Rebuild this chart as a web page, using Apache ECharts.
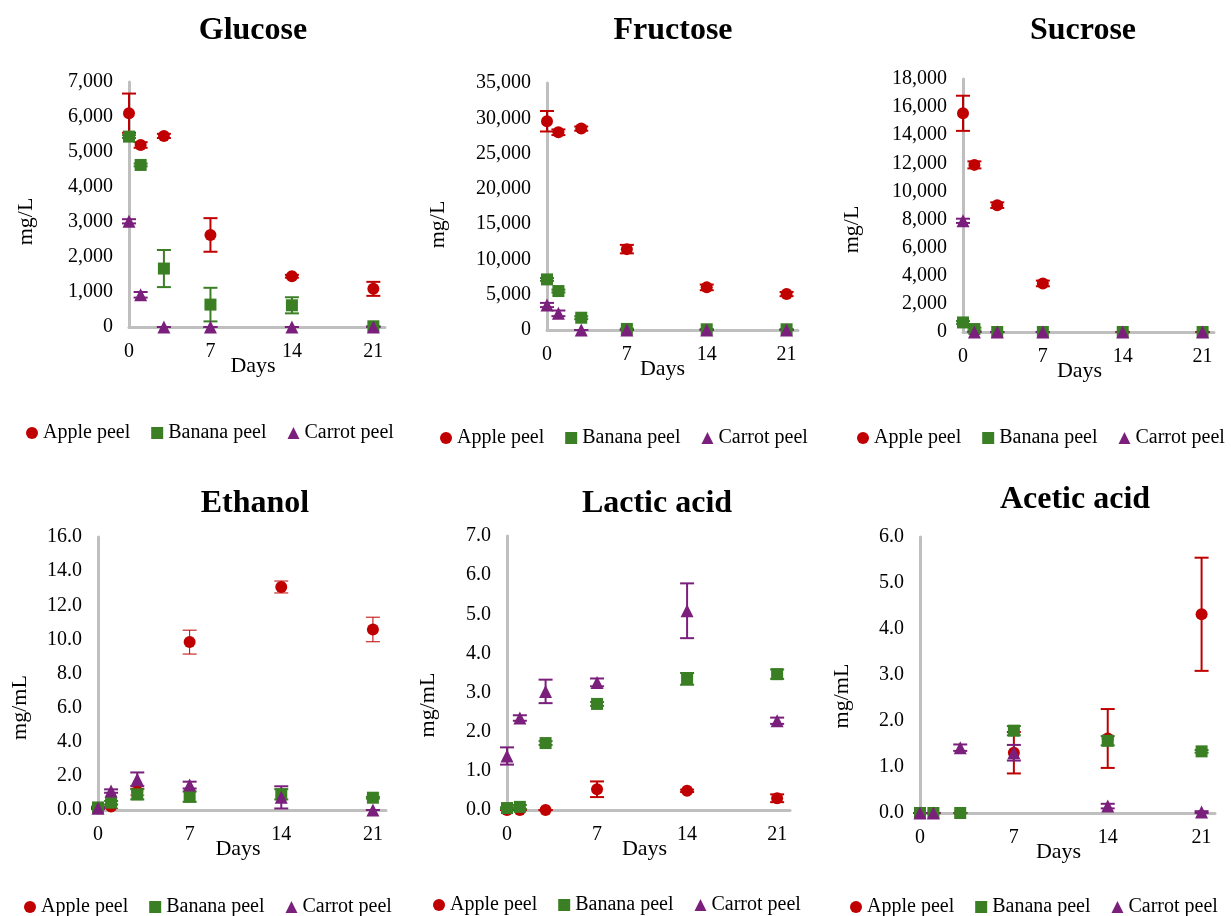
<!DOCTYPE html>
<html>
<head>
<meta charset="utf-8">
<title>Sugars and acids in fruit peel media</title>
<script src="https://cdn.jsdelivr.net/npm/echarts@6/dist/echarts.min.js"></script>
<style>
  html, body { margin: 0; background: #fff; }
  #main { width: 1231px; height: 916px; }
</style>
</head>
<body>
<div id="main"></div>
<script>
const days = [0, 1, 3, 7, 14, 21];
const xTicks = [0, 7, 14, 21];
const peelNames = ['Apple peel', 'Banana peel', 'Carrot peel'];

// Glucose, mg/L
const glucoseApple = [6110, 5200, 5460, 2630, 1450, 1090];
const glucoseAppleSd = [560, 80, 60, 480, 40, 200];
const glucoseBanana = [5440, 4630, 1670, 640, 620, 20];
const glucoseBananaSd = [40, 40, 530, 480, 230, 0];
const glucoseCarrot = [3020, 920, 0, 0, 0, 0];
const glucoseCarrotSd = [60, 80, 0, 0, 0, 0];

// Fructose, mg/L
const fructoseApple = [29580, 28020, 28540, 11460, 6040, 5090];
const fructoseAppleSd = [1450, 400, 300, 600, 400, 300];
const fructoseBanana = [7170, 5520, 1740, 150, 100, 100];
const fructoseBananaSd = [200, 200, 200, 50, 50, 50];
const fructoseCarrot = [3540, 2360, 0, 0, 0, 0];
const fructoseCarrotSd = [300, 400, 0, 0, 0, 0];

// Sucrose, mg/L
const sucroseApple = [15560, 11890, 9025, 3455, 0, 0];
const sucroseAppleSd = [1250, 250, 200, 200, 0, 0];
const sucroseBanana = [680, 210, 0, 0, 0, 0];
const sucroseBananaSd = [100, 100, 0, 0, 0, 0];
const sucroseCarrot = [7910, 0, 0, 0, 0, 0];
const sucroseCarrotSd = [150, 0, 0, 0, 0, 0];

// Ethanol, mg/mL
const ethanolApple = [0.1, 0.2, 1.07, 9.84, 13.07, 10.58];
const ethanolAppleSd = [0.05, 0.1, 0.2, 0.7, 0.35, 0.72];
const ethanolBanana = [0.15, 0.43, 0.92, 0.78, 0.92, 0.72];
const ethanolBananaSd = [0.05, 0.1, 0.3, 0.3, 0.3, 0.05];
const ethanolCarrot = [0.1, 1.11, 1.8, 1.46, 0.74, 0];
const ethanolCarrotSd = [0.05, 0.1, 0.4, 0.2, 0.65, 0];

// Lactic acid, mg/mL
const lacticApple = [0, 0, 0, 0.53, 0.49, 0.3];
const lacticAppleSd = [0, 0, 0, 0.2, 0.03, 0.1];
const lacticBanana = [0.05, 0.08, 1.71, 2.71, 3.35, 3.47];
const lacticBananaSd = [0.02, 0.05, 0.05, 0.05, 0.15, 0.12];
const lacticCarrot = [1.38, 2.35, 3.03, 3.26, 5.09, 2.28];
const lacticCarrotSd = [0.22, 0.07, 0.3, 0.1, 0.7, 0.08];

// Acetic acid, mg/mL
const aceticApple = [0, 0, 0, 1.31, 1.62, 4.32];
const aceticAppleSd = [0, 0, 0, 0.45, 0.64, 1.23];
const aceticBanana = [0, 0, 0, 1.79, 1.57, 1.34];
const aceticBananaSd = [0, 0, 0, 0.1, 0.1, 0.03];
const aceticCarrot = [0, 0, 1.42, 1.31, 0.15, 0.02];
const aceticCarrotSd = [0, 0, 0.07, 0.17, 0.05, 0.02];

const colors = ['#C00000', '#3B7F25', '#7A1F7C'];
const symbols = ['circle', 'rect', 'triangle'];
const font = '"Liberation Serif", "Times New Roman", serif';

const panels = [
  { title: 'Glucose', unit: 'mg/L', max: 7000, step: 1000, decimals: 0,
    means: [glucoseApple, glucoseBanana, glucoseCarrot],
    sds: [glucoseAppleSd, glucoseBananaSd, glucoseCarrotSd],
    grid: { left: 129, top: 82, width: 256, height: 245 },
    titleAt: [248, 26], legendAt: [26, 423], yNameGap: 92, yNameShift: 17, xNameShift: 4, errWidth: [2, 2, 2] },
  { title: 'Fructose', unit: 'mg/L', max: 35000, step: 5000, decimals: 0,
    means: [fructoseApple, fructoseBanana, fructoseCarrot],
    sds: [fructoseAppleSd, fructoseBananaSd, fructoseCarrotSd],
    grid: { left: 547, top: 83, width: 251, height: 247 },
    titleAt: [668, 26], legendAt: [440, 428], yNameGap: 98, yNameShift: 18, xNameShift: 10, errWidth: [2, 2, 2] },
  { title: 'Sucrose', unit: 'mg/L', max: 18000, step: 2000, decimals: 0,
    means: [sucroseApple, sucroseBanana, sucroseCarrot],
    sds: [sucroseAppleSd, sucroseBananaSd, sucroseCarrotSd],
    grid: { left: 963, top: 79, width: 251, height: 253 },
    titleAt: [1078, 26], legendAt: [857, 428], yNameGap: 100, yNameShift: 24, xNameShift: 9, errWidth: [2, 2, 2] },
  { title: 'Ethanol', unit: 'mg/mL', max: 16, step: 2, decimals: 1,
    means: [ethanolApple, ethanolBanana, ethanolCarrot],
    sds: [ethanolAppleSd, ethanolBananaSd, ethanolCarrotSd],
    grid: { left: 98, top: 537, width: 288, height: 273 },
    titleAt: [250, 499], legendAt: [24, 897], yNameGap: 67, yNameShift: 34, xNameShift: 4, errWidth: [1, 2, 2] },
  { title: 'Lactic acid', unit: 'mg/mL', max: 7, step: 1, decimals: 1,
    means: [lacticApple, lacticBanana, lacticCarrot],
    sds: [lacticAppleSd, lacticBananaSd, lacticCarrotSd],
    grid: { left: 507, top: 536, width: 283, height: 274 },
    titleAt: [652, 499], legendAt: [433, 895], yNameGap: 68, yNameShift: 32, xNameShift: 4, errWidth: [2, 2, 2] },
  { title: 'Acetic acid', unit: 'mg/mL', max: 6, step: 1, decimals: 1,
    means: [aceticApple, aceticBanana, aceticCarrot],
    sds: [aceticAppleSd, aceticBananaSd, aceticCarrotSd],
    grid: { left: 920, top: 537, width: 295, height: 276 },
    titleAt: [1070, 495], legendAt: [850, 897], yNameGap: 67, yNameShift: 21, xNameShift: 9, errWidth: [2, 2, 2] }
];

// vertical error bar with caps, drawn in data coordinates
function errorBar(color, width) {
  return function (params, api) {
    const x = api.value(0), y = api.value(1), sd = api.value(2);
    const top = api.coord([x, y + sd]);
    const bottom = api.coord([x, y - sd]);
    const cap = 7;
    const style = { stroke: color, lineWidth: width, fill: null };
    return {
      type: 'group',
      children: [
        { type: 'line', shape: { x1: top[0], y1: top[1], x2: bottom[0], y2: bottom[1] }, style: style },
        { type: 'line', shape: { x1: top[0] - cap, y1: top[1], x2: top[0] + cap, y2: top[1] }, style: style },
        { type: 'line', shape: { x1: bottom[0] - cap, y1: bottom[1], x2: bottom[0] + cap, y2: bottom[1] }, style: style }
      ]
    };
  };
}

const option = {
  animation: false,
  backgroundColor: '#fff',
  title: [], legend: [], grid: [], xAxis: [], yAxis: [], series: []
};

panels.forEach(function (p, i) {
  option.title.push({
    text: p.title, left: p.titleAt[0], top: p.titleAt[1],
    textAlign: 'center', textVerticalAlign: 'middle',
    textStyle: { fontFamily: font, fontWeight: 'bold', fontSize: 32, color: '#000' }
  });
  option.grid.push(Object.assign({ containLabel: false, outerBoundsMode: 'none' }, p.grid));
  option.legend.push({
    left: p.legendAt[0], top: p.legendAt[1], padding: 0,
    itemWidth: 12, itemHeight: 12, itemGap: 21, selectedMode: false,
    textStyle: { fontFamily: font, fontSize: 20, color: '#000' },
    data: peelNames.map(function (n, k) { return { name: n, icon: symbols[k] }; })
  });
  option.xAxis.push({
    type: 'value', gridIndex: i, min: 0, max: 22, interval: 7,
    name: 'Days', nameLocation: 'middle', nameGap: 28, nameMoveOverlap: false,
    nameTextStyle: { fontFamily: font, fontSize: 22, color: '#000', padding: [0, 2 * p.xNameShift, 0, 0] },
    axisLine: { show: true, onZero: true, lineStyle: { color: '#BFBFBF', width: 3 } },
    axisTick: { show: false },
    splitLine: { show: false },
    axisLabel: {
      margin: 15, fontFamily: font, fontSize: 20, color: '#000', showMaxLabel: false,
      formatter: function (v) { return xTicks.indexOf(v) >= 0 ? String(v) : ''; }
    }
  });
  option.yAxis.push({
    type: 'value', gridIndex: i, min: 0, max: p.max, interval: p.step,
    name: p.unit, nameLocation: 'middle', nameGap: p.yNameGap,
    nameTextStyle: { fontFamily: font, fontSize: 22, color: '#000', padding: [0, 2 * p.yNameShift, 0, 0] },
    axisLine: { show: true, lineStyle: { color: '#BFBFBF', width: 3 } },
    axisTick: { show: false },
    splitLine: { show: false },
    axisLabel: {
      margin: 16, fontFamily: font, fontSize: 20, color: '#000',
      formatter: function (v) { return p.decimals ? v.toFixed(1) : v.toLocaleString('en-US'); }
    }
  });
  for (let k = 0; k < 3; k++) {
    option.series.push({
      type: 'custom', name: p.title + ' ' + peelNames[k] + ' sd',
      xAxisIndex: i, yAxisIndex: i, silent: true, clip: false,
      renderItem: errorBar(colors[k], p.errWidth[k]),
      encode: { x: 0, y: 1 },
      data: days.map(function (d, j) { return [d, p.means[k][j], p.sds[k][j]]; })
    });
    option.series.push({
      type: 'scatter', name: peelNames[k],
      xAxisIndex: i, yAxisIndex: i, silent: true, clip: false,
      symbol: symbols[k], symbolSize: k === 2 ? 13 : 12,
      itemStyle: { color: colors[k], opacity: 1 },
      data: days.map(function (d, j) { return [d, p.means[k][j]]; })
    });
  }
});

const chart = echarts.init(document.getElementById('main'));
chart.setOption(option);
</script>
</body>
</html>
